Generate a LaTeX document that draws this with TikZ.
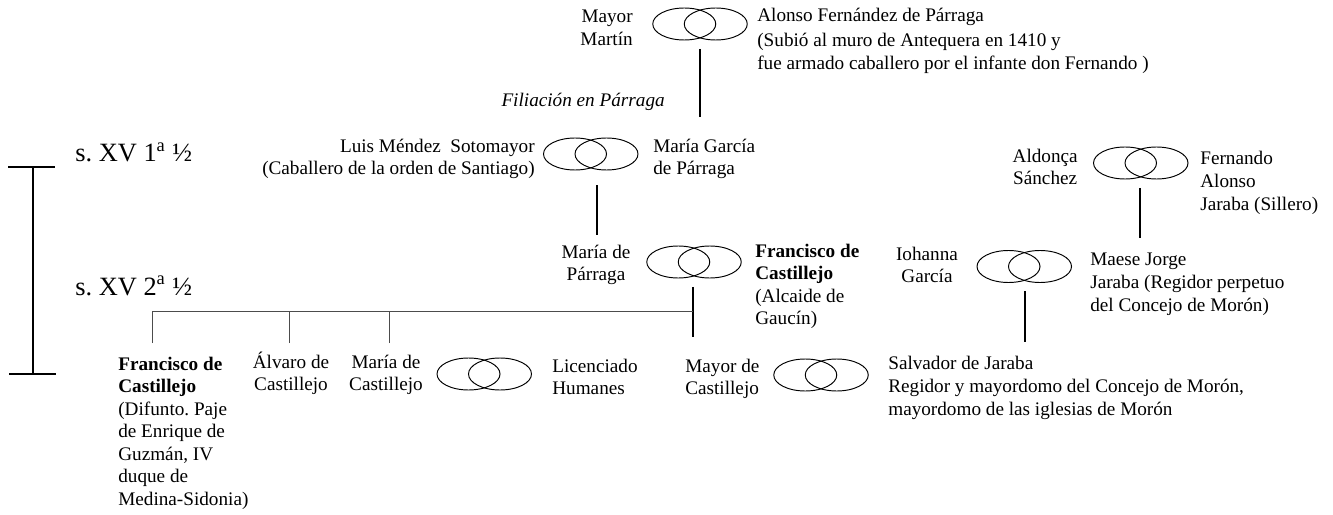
\documentclass[tikz,border=0pt]{standalone}
\usepackage{fontspec}
\setmainfont{Liberation Serif}
\usetikzlibrary{positioning,calc}
\frenchspacing
\tikzset{
    % couple symbol, two linked rings
    couple/.style={
           inner sep=0pt,
           minimum width=60pt,
           minimum height=20.6pt,
           path picture={
              \draw [line width=0.6pt] ([xshift=-9.84pt]path picture bounding box.center)
                    ellipse [x radius=19.69pt, y radius=10pt];
              \draw [line width=0.6pt] ([xshift= 9.84pt]path picture bounding box.center)
                    ellipse [x radius=19.69pt, y radius=10pt];}},
    % names (placed at the baseline of their last line)
    pers/.style={inner sep=0pt, font=\fontsize{12}{14.1}\selectfont},
    % descent line
    desc/.style={line width=1.2pt, shorten <=5pt},
    % sibling line
    sib/.style={line width=0.5pt, black!70},
    % time bar
    bar/.style={line width=1.1pt},
    epoca/.style={inner sep=0pt, anchor=base west, font=\fontsize{16.5}{19}\selectfont}
}

\begin{document}
\begin{tikzpicture}[x=0.625pt, y=-0.625pt]

\useasboundingbox (0,0) rectangle (1333,515);

%%%%%%%%%%%%%%%%%%%%%%%%%%%%%%%%%

% time bar
\node [epoca] (sxvA) at (75,162) {s. XV 1\textsuperscript{a} ½};
\node [epoca] (sxvB) at (75,295) {s. XV 2\textsuperscript{a} ½};
\coordinate (barTop) at (33,167);
\coordinate (barBot) at (33,374);
\draw [bar] (barTop) -- (barBot);
\draw [bar] ($(barTop)+(-25,0)$) -- ($(barTop)+(22,0)$);
\draw [bar] ($(barBot)+(-24,0)$) -- ($(barBot)+(23,0)$);

% first generation
\node [pers, align=right, anchor=base east] (mayorM) at (633,45.5) {Mayor\\Martín};
\node [couple] (pA) at (700,24) {};
\node [pers, align=left, anchor=base west] (alonso) at (757,69.5)
      {Alonso Fernández de Párraga\\[1.5pt]
       (Subió al muro de Antequera en 1410 y\\
       fue armado caballero por el infante don Fernando )};
\node [pers, anchor=base east, font=\fontsize{12}{14.1}\selectfont\itshape] (filiacion) at (665,107)
      {Filiación en Párraga};

% second generation
\node [pers, align=right, anchor=base east] (luis) at (535,174.6)
      {Luis Méndez\ \ Sotomayor\\(Caballero de la orden de Santiago)};
\node [couple] (pB) at (590.75,154) {};
\node [pers, align=left, anchor=base west] (mgarcia) at (653,174.6) {María García\\de Párraga};

\node [pers, align=center, anchor=base east] (aldonca) at (1078,184.6) {Aldonça\\Sánchez};
\node [couple] (pC) at (1140.75,163) {};
\node [pers, align=left, anchor=base west] (fernando) at (1200,210.1) {Fernando\\Alonso\\Jaraba (Sillero)};

% third generation
\node [pers, align=center, anchor=base] (mparraga) at (596,280.6) {María de\\Párraga};
\node [couple] (pD) at (694,262) {};
\node [pers, align=left, anchor=base west] (fcastA) at (755,324.7)
      {\textbf{Francisco de}\\\textbf{Castillejo}\\(Alcaide de\\Gaucín)};

\node [pers, align=center, anchor=base] (iohanna) at (927,282.6) {Iohanna\\García};
\node [couple] (pE) at (1024.25,266.5) {};
\node [pers, align=left, anchor=base west] (maese) at (1090,311.1)
      {Maese Jorge\\Jaraba (Regidor perpetuo\\del Concejo de Morón)};

% fourth generation
\node [pers, align=left, anchor=base west] (fcastB) at (118,505.4)
      {\textbf{Francisco de}\\\textbf{Castillejo}\\(Difunto. Paje\\de Enrique de\\Guzmán, IV\\duque de\\Medina-Sidonia)};
\node [pers, align=center, anchor=base] (alvaro) at (291,390.6) {Álvaro de\\Castillejo};
\node [pers, align=center, anchor=base] (mcast) at (386,390.6) {María de\\Castillejo};
\node [couple] (pF) at (484.25,374) {};
\node [pers, align=left, anchor=base west] (licen) at (552,394.6) {Licenciado\\Humanes};

\node [pers, align=left, anchor=base west] (mayorC) at (685,394.6) {Mayor de\\Castillejo};
\node [couple] (pG) at (821,375) {};
\node [pers, align=left, anchor=base west] (salvador) at (888,415.1)
      {Salvador de Jaraba\\
       Regidor y mayordomo del Concejo de Morón,\\
       mayordomo de las iglesias de Morón};

% descent lines
\coordinate (aEnd) at (700,117);
\coordinate (bEnd) at (597,235);
\coordinate (cEnd) at (1140,238);
\coordinate (dEnd) at (693,337);
\coordinate (eEnd) at (1025,342);
\draw [desc] (pA.south) -- (aEnd);
\draw [desc, shorten <=9pt] (bEnd |- pB.south) -- (bEnd);
\draw [desc] (pC.south -| cEnd) -- (cEnd);
\draw [desc] (pD.south -| dEnd) -- (dEnd);
\draw [desc] (pE.south -| eEnd) -- (eEnd);

% siblings
\coordinate (sibJ) at (693,311);
\coordinate (kA) at (152,343);
\coordinate (kB) at (289,343);
\coordinate (kC) at (389,343);
\draw [sib] (kA) |- (sibJ);
\foreach \k in {kB,kC}
    \draw [sib] (\k) -- (\k |- sibJ);

\end{tikzpicture}
\end{document}
